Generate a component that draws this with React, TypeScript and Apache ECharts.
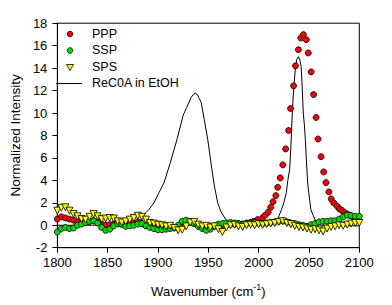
import React, { useEffect, useRef } from "react";
import * as echarts from "echarts";

const seriesNames = ["PPP", "SSP", "SPS", "ReC0A in EtOH"];
const xTicks = { min: 1800, max: 2100, interval: 50 };
const yTicks = { min: -2, max: 18, interval: 2 };

const pppData: [number, number][] = [
  [1800, 0.55], [1804, 0.75], [1808, 0.65], [1812, 0.55], [1816, 0.45], [1820, 0.3], [1824, 0.2], [1828, 0.25],
  [1832, 0.35], [1836, 0.4], [1840, 0.3], [1844, 0.1], [1848, 0.0], [1852, 0.05], [1856, 0.1], [1860, 0.15],
  [1864, 0.1], [1868, 0.15], [1872, 0.2], [1876, 0.2], [1880, 0.3], [1884, 0.15], [1888, -0.05], [1892, -0.1],
  [1896, -0.1], [1900, -0.15], [1904, -0.2], [1908, -0.15], [1912, -0.1], [1916, -0.2], [1920, -0.15], [1924, 0.05],
  [1928, 0.2], [1932, 0.25], [1936, 0.15], [1940, 0.0], [1944, -0.1], [1948, -0.2], [1952, -0.15], [1956, -0.05],
  [1960, -0.1], [1964, -0.2], [1968, 0.0], [1972, 0.1], [1976, 0.1], [1980, 0.15], [1984, 0.1], [1988, 0.2],
  [1992, 0.25], [1995, 0.35], [1999, 0.5], [2003.8, 0.66], [2006.4, 0.89], [2009.5, 1.16], [2012, 1.6], [2014.3, 2.1],
  [2017.1, 2.64], [2018.9, 3.38], [2021.5, 4.22], [2024, 5.38], [2026.8, 6.8], [2029.8, 8.44], [2031.7, 10.4],
  [2034.7, 12.42], [2036.6, 14.2], [2039.5, 15.64], [2041.9, 16.68], [2044.4, 16.98], [2047.3, 16.53], [2049.3, 15.35],
  [2052.2, 13.66], [2054.6, 11.64], [2057.1, 9.6], [2059, 7.68], [2062, 6.11], [2064.6, 4.75], [2066.9, 3.8],
  [2069.8, 2.97], [2072.1, 2.35], [2074.6, 1.99], [2078, 1.69], [2080.2, 1.46], [2082.8, 1.31], [2085.1, 1.16],
  [2087.7, 1.01], [2090.3, 0.9], [2093, 0.8], [2095.6, 0.72], [2098.3, 0.66],
];

const sspData: [number, number][] = [
  [1800, -0.6], [1804, -0.3], [1808, -0.2], [1812, -0.3], [1816, -0.25], [1820, 0.0], [1824, 0.1], [1828, 0.25],
  [1832, 0.35], [1836, 0.4], [1840, 0.2], [1844, -0.2], [1848, -0.45], [1852, -0.35], [1856, -0.05], [1860, 0.15],
  [1864, 0.1], [1868, -0.1], [1872, -0.05], [1876, 0.0], [1880, 0.1], [1884, 0.15], [1888, -0.05], [1892, -0.2],
  [1896, -0.3], [1900, -0.4], [1904, -0.4], [1908, -0.35], [1912, -0.3], [1916, -0.2], [1920, 0.0], [1924, 0.35],
  [1928, 0.45], [1932, 0.35], [1936, 0.15], [1940, -0.1], [1944, -0.3], [1948, -0.45], [1952, -0.35], [1956, -0.1],
  [1960, 0.1], [1964, 0.15], [1968, 0.2], [1972, 0.25], [1976, 0.2], [1980, 0.15], [1984, 0.1], [1988, 0.15],
  [1992, 0.2], [1996, 0.25], [2000, 0.2], [2004, 0.15], [2008, 0.2], [2012, 0.25], [2016, 0.3], [2020, 0.35],
  [2024, 0.4], [2028, 0.3], [2032, 0.2], [2036, 0.15], [2040, 0.05], [2044, 0.0], [2048, -0.1], [2052, 0.05],
  [2056, 0.15], [2060, 0.3], [2064, 0.35], [2068, 0.35], [2072, 0.4], [2076, 0.4], [2080, 0.55], [2084, 0.75],
  [2088, 0.9], [2092, 0.85], [2096, 0.8], [2100, 0.8],
];

const spsData: [number, number][] = [
  [1800, 1.3], [1804, 1.55], [1808, 1.6], [1812, 1.3], [1816, 1.0], [1820, 0.8], [1824, 0.55], [1828, 0.5],
  [1832, 0.75], [1836, 1.0], [1840, 0.8], [1844, 0.55], [1848, 0.6], [1852, 0.65], [1856, 0.6], [1860, 0.35],
  [1864, 0.25], [1868, 0.35], [1872, 0.5], [1876, 0.65], [1880, 0.85], [1884, 0.75], [1888, 0.5], [1892, 0.2],
  [1896, 0.15], [1900, 0.05], [1904, 0.0], [1908, -0.1], [1912, -0.05], [1916, -0.25], [1920, -0.45], [1924, -0.4],
  [1928, -0.1], [1932, 0.25], [1936, 0.3], [1940, 0.05], [1944, -0.1], [1948, -0.05], [1952, -0.2], [1956, -0.1],
  [1960, -0.35], [1964, -0.6], [1968, -0.2], [1972, 0.0], [1976, 0.05], [1980, -0.1], [1984, -0.15], [1988, 0.0],
  [1992, 0.05], [1996, 0.0], [2000, 0.1], [2004, 0.05], [2008, 0.1], [2012, 0.15], [2016, 0.2], [2020, 0.3],
  [2024, 0.35], [2028, 0.2], [2032, 0.1], [2036, -0.05], [2040, -0.15], [2044, -0.2], [2048, -0.3], [2052, -0.4],
  [2056, -0.35], [2060, -0.45], [2064, -0.55], [2068, -0.3], [2072, -0.15], [2076, -0.1], [2080, 0.0], [2084, -0.05],
  [2088, 0.05], [2092, 0.15], [2096, 0.2], [2100, 0.2],
];

const recoaData: [number, number][] = [
  [1800, 0.0], [1830, 0.0], [1860, 0.02], [1875, 0.05], [1880, 0.2], [1883, 0.5], [1886, 0.95], [1891, 1.4],
  [1896, 2.0], [1901, 2.9], [1906, 3.8], [1912, 5.5], [1919, 7.7], [1925, 9.8], [1928, 10.4], [1930, 10.8],
  [1933, 11.4], [1935, 11.65], [1937, 11.77], [1939, 11.65], [1941, 11.3], [1943, 10.9], [1946, 9.4], [1949.5, 7.6],
  [1952.7, 5.5], [1956, 3.5], [1959.3, 2.0], [1962.5, 1.2], [1967.4, 0.5], [1972, 0.15], [1980, 0.0], [2000, 0.0],
  [2010, 0.05], [2015, 0.3], [2019.4, 0.66], [2022.7, 1.4], [2025, 2.0], [2027.5, 2.9], [2029, 4.0], [2030.8, 5.0],
  [2032, 7.0], [2033.1, 9.4], [2034.1, 11.17], [2035.3, 12.7], [2036.6, 14.13], [2038, 14.8], [2039.5, 15.02],
  [2041, 14.7], [2042.2, 14.13], [2043.1, 12.66], [2044.4, 9.9], [2045.4, 9.0], [2046.4, 7.62], [2047.3, 6.0],
  [2048.7, 3.77], [2049.8, 2.9], [2051.9, 1.4], [2053.6, 1.0], [2056.8, 0.35], [2060, 0.05], [2065, -0.05],
  [2080, -0.05], [2100, -0.05],
];

const COLORS = { PPP: "#ff0000", SSP: "#00e000", SPS: "#ffff00", line: "#000000" };

export default function App() {
  const ref = useRef<HTMLDivElement>(null);
  useEffect(() => {
    if (!ref.current) return;
    const chart = echarts.init(ref.current, undefined, { renderer: "svg" });
    const font = "Arial, 'Liberation Sans', sans-serif";
    const legendRowsY = [34, 50.5, 67, 83.5];
    const markX = 70;
    const textX = 92;
    const legendText = (i: number) => ({
      type: "text",
      left: textX,
      top: legendRowsY[i] - 7,
      style: { text: seriesNames[i], fontFamily: font, fontSize: 12.5, fill: "#000" },
    });
    chart.setOption({
      animation: false,
      backgroundColor: "#ffffff",
      textStyle: { fontFamily: font, color: "#000" },
      grid: {
        left: 51.7,
        top: 23.2,
        right: 32.7,
        bottom: 57.3,
        show: true,
        borderColor: "#000",
        borderWidth: 1,
        backgroundColor: "transparent",
      },
      graphic: [
        {
          type: "circle",
          shape: { cx: markX, cy: legendRowsY[0], r: 2.8 },
          style: { fill: COLORS.PPP, stroke: "#000", lineWidth: 0.8 },
          z: 100,
        },
        {
          type: "circle",
          shape: { cx: markX, cy: legendRowsY[1], r: 2.8 },
          style: { fill: COLORS.SSP, stroke: "#000", lineWidth: 0.8 },
          z: 100,
        },
        {
          type: "polygon",
          shape: {
            points: [
              [markX - 3.5, legendRowsY[2] - 2.5],
              [markX + 3.5, legendRowsY[2] - 2.5],
              [markX, legendRowsY[2] + 3.5],
            ],
          },
          style: { fill: COLORS.SPS, stroke: "#000", lineWidth: 0.8 },
          z: 100,
        },
        {
          type: "line",
          shape: { x1: 56, y1: legendRowsY[3], x2: 82, y2: legendRowsY[3] },
          style: { stroke: COLORS.line, lineWidth: 1 },
          z: 100,
        },
        legendText(0),
        legendText(1),
        legendText(2),
        legendText(3),
      ],
      xAxis: {
        type: "value",
        min: xTicks.min,
        max: xTicks.max,
        interval: xTicks.interval,
        name: "Wavenumber (cm{sup|-1})",
        nameLocation: "middle",
        nameGap: 35,
        nameTextStyle: {
          fontFamily: font,
          fontSize: 13,
          color: "#000",
          rich: { sup: { fontSize: 9, verticalAlign: "top", padding: [0, 0, 8, 0], fontFamily: font, color: "#000" } },
        },
        splitLine: { show: false },
        axisLine: { show: true, onZero: false, lineStyle: { color: "#000", width: 1 } },
        axisTick: { show: true, inside: false, length: 5, lineStyle: { color: "#000" } },
        axisLabel: { fontFamily: font, fontSize: 13, color: "#000", margin: 8, formatter: (v: number) => String(v) },
      },
      yAxis: {
        type: "value",
        min: yTicks.min,
        max: yTicks.max,
        interval: yTicks.interval,
        name: "Normalized Intensity",
        nameLocation: "middle",
        nameGap: 32,
        nameTextStyle: { fontFamily: font, fontSize: 13.5, color: "#000" },
        splitLine: { show: false },
        axisLine: { show: true, onZero: false, lineStyle: { color: "#000", width: 1 } },
        axisTick: { show: true, inside: false, length: 5, lineStyle: { color: "#000" } },
        axisLabel: { fontFamily: font, fontSize: 13, color: "#000", margin: 10, formatter: (v: number) => String(v) },
      },
      series: [
        {
          name: seriesNames[3],
          type: "line",
          data: recoaData,
          symbol: "none",
          lineStyle: { color: COLORS.line, width: 1 },
          itemStyle: { color: COLORS.line },
          z: 1,
        },
        {
          name: seriesNames[0],
          type: "scatter",
          data: pppData,
          symbol: "circle",
          symbolSize: 6,
          itemStyle: { color: COLORS.PPP, borderColor: "#000", borderWidth: 0.8, opacity: 1 },
          z: 2,
        },
        {
          name: seriesNames[1],
          type: "scatter",
          data: sspData,
          symbol: "circle",
          symbolSize: 6,
          itemStyle: { color: COLORS.SSP, borderColor: "#000", borderWidth: 0.8, opacity: 1 },
          z: 3,
        },
        {
          name: seriesNames[2],
          type: "scatter",
          data: spsData,
          symbol: "triangle",
          symbolRotate: 180,
          symbolSize: 7,
          itemStyle: { color: COLORS.SPS, borderColor: "#000", borderWidth: 0.8, opacity: 1 },
          z: 4,
        },
      ],
    });
    return () => chart.dispose();
  }, []);
  return (
    <div
      ref={ref}
      style={{ position: "fixed", left: 0, top: 0, width: 392, height: 305, background: "#fff" }}
    />
  );
}
